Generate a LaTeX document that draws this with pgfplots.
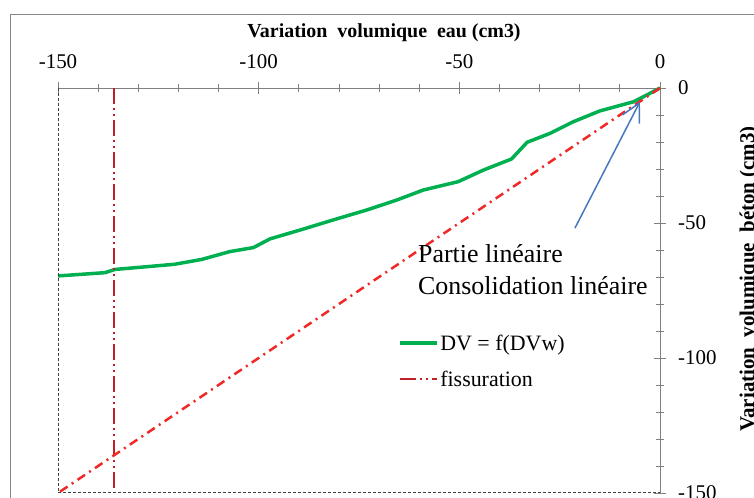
\documentclass[border=0pt]{standalone}
\usepackage{fontspec}
\setmainfont{Liberation Serif}
\usepackage{pgfplots}
\pgfplotsset{compat=1.18}
\usetikzlibrary{arrows.meta}
\definecolor{exgreen}{RGB}{0,176,80}
\definecolor{exred}{RGB}{240,40,40}
\definecolor{exdarkred}{RGB}{192,30,40}
\definecolor{exblue}{RGB}{70,120,190}
\definecolor{framegray}{RGB}{134,134,134}
\begin{document}
\begin{tikzpicture}[x=1bp,y=1bp]
\useasboundingbox (0,0) rectangle (754,498);
\draw[framegray, line width=1bp] (10.5,-5) -- (10.5,483.5) -- (770,483.5);
\begin{axis}[
  at={(58bp,5bp)}, anchor=south west,
  width=602bp, height=405bp, scale only axis,
  xmin=-150, xmax=0, ymin=-150, ymax=0,
  axis x line*=top, axis y line*=right,
  axis line style={draw=gray, line width=0.8bp},
  xtick={-150,-100,-50,0}, ytick={-150,-100,-50,0},
  minor x tick num=4, minor y tick num=4,
  tick align=center,
  major tick length=12bp, minor tick length=8bp,
  every tick/.style={gray, line width=0.8bp},
  /pgf/number format/assume math mode=true,
  ticklabel style={font=\fontsize{21}{21}\selectfont},
  xticklabel style={inner sep=0pt, anchor=south, yshift=13bp},
  yticklabel style={inner sep=0pt, anchor=west, xshift=12bp},
  legend style={draw=none, fill=none, at={(rel axis cs:0.565,0.395)}, anchor=north west,
    font=\fontsize{22}{26}\selectfont, row sep=16bp, inner sep=0pt, nodes={inner sep=1.5bp}},
  legend cell align=left,
  legend image code/.code={\draw[#1] (0bp,0bp) -- (37bp,0bp);},
  clip=false,
]
\addplot[exgreen, line width=3.5bp] coordinates {
(-150,-69.6) (-138.3,-68.4) (-135.8,-67.2) (-128,-66.2) (-121,-65.3) (-114.2,-63.5)
(-107.2,-60.6) (-101.3,-59.1) (-97.2,-55.9) (-89,-52.3) (-81.5,-48.9) (-73.1,-45.2)
(-65.6,-41.5) (-59,-37.8) (-50.3,-34.7) (-44,-30.4) (-37,-26.3) (-33.1,-20.1)
(-27.4,-16.8) (-21.6,-12.5) (-15,-8.5) (-6.6,-5.1) (-3.3,-2.6) (0,0)};
\addlegendentry{DV = f(DVw)}
\addplot[exdarkred, line width=2.5bp, dash pattern=on 16bp off 4bp on 2bp off 4bp on 2bp off 4bp] coordinates {(-136,0) (-136,-150)};
\addlegendentry{fissuration}
\addplot[exred, line width=2.5bp, dash pattern=on 9bp off 5bp on 2bp off 5bp, forget plot] coordinates {(0,0) (-150,-150)};
\draw[black!75, line width=1bp, dash pattern=on 3bp off 2bp] (rel axis cs:0,1) -- (rel axis cs:0,0) -- (rel axis cs:1,0);
\draw[exblue, line width=1.5bp, -{Straight Barb[length=18bp, width=19bp]}] (axis cs:-21.2,-51.9) -- (axis cs:-5,-5.1);
\end{axis}
\node[font=\bfseries\fontsize{20}{24}\selectfont] at (384,465) {Variation\ \ volumique\ \ eau (cm3)};
\node[rotate=90, anchor=base, inner sep=0pt, font=\bfseries\fontsize{21}{24}\selectfont] at (754,219) {Variation\ \ volumique\ \ béton (cm3)};
\node[anchor=base west, inner sep=0pt, font=\fontsize{26}{30}\selectfont] at (418,235) {Partie linéaire};
\node[anchor=base west, inner sep=0pt, font=\fontsize{26}{30}\selectfont] at (418,203) {Consolidation linéaire};
\end{tikzpicture}
\end{document}
